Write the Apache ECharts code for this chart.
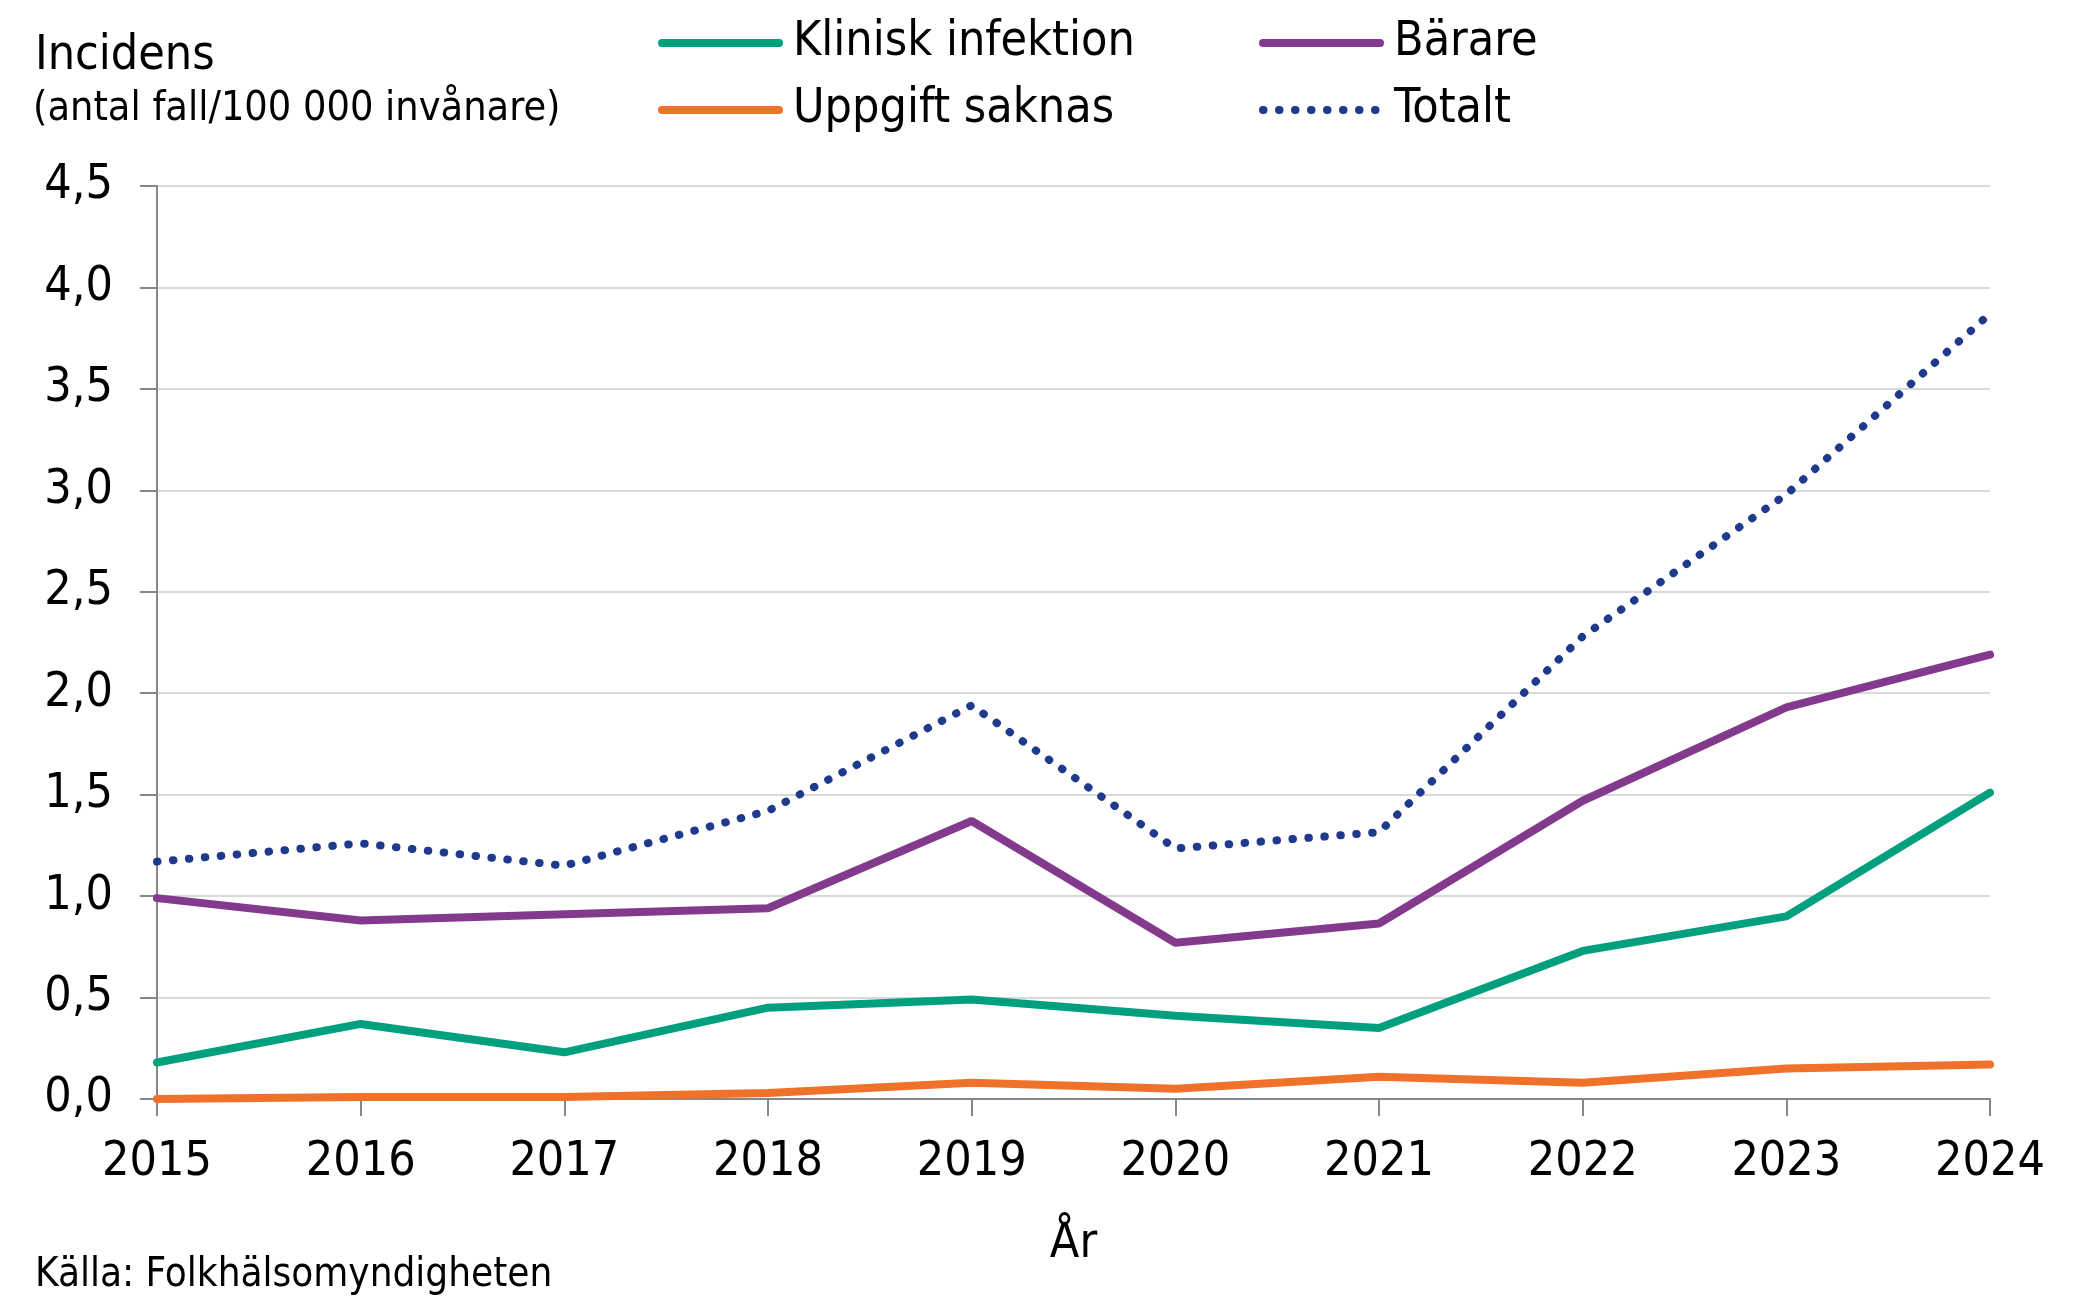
<!DOCTYPE html>
<html>
<head>
    <meta charset="utf-8">
    <script src="https://cdn.jsdelivr.net/npm/echarts@6/dist/echarts.min.js"></script>
    <style>
        html, body { margin: 0; padding: 0; background: #fff; }
    </style>
</head>
<body>
    <div id="main" style="width: 2079px;height:1300px;"></div>
    <script type="text/javascript">
        // data
        var years = ['2015', '2016', '2017', '2018', '2019', '2020', '2021', '2022', '2023', '2024'];
        var klinisk = [0.18, 0.37, 0.23, 0.45, 0.49, 0.41, 0.35, 0.73, 0.90, 1.51];
        var barare = [0.99, 0.88, 0.91, 0.94, 1.37, 0.77, 0.865, 1.47, 1.93, 2.19];
        var uppgift = [0.00, 0.01, 0.01, 0.03, 0.08, 0.05, 0.11, 0.08, 0.15, 0.17];
        var totalt = [1.17, 1.26, 1.15, 1.42, 1.94, 1.235, 1.315, 2.28, 2.98, 3.87];
        var yTicks = [0, 0.5, 1, 1.5, 2, 2.5, 3, 3.5, 4, 4.5];

        var FONT = '"DejaVu Sans Condensed", "DejaVu Sans", sans-serif';
        var colors = {
            klinisk: '#00A07F',
            barare: '#833A8D',
            uppgift: '#F0712A',
            totalt: '#1F3A8C'
        };

        var myChart = echarts.init(document.getElementById('main'));

        function lineSeries(name, data, color, dotted) {
            return {
                name: name,
                type: 'line',
                data: data,
                symbol: 'none',
                showSymbol: false,
                smooth: false,
                animation: false,
                z: dotted ? 3 : 2,
                lineStyle: dotted ? {
                    color: color,
                    width: 8,
                    type: [0.5, 15.5],
                    cap: 'round'
                } : {
                    color: color,
                    width: 8,
                    cap: 'round'
                },
                itemStyle: { color: color }
            };
        }

        var legendText = {
            fontFamily: FONT,
            fontSize: 48,
            color: '#000',
            lineHeight: 48,
            padding: [0, 0, 0, 9]
        };

        function legendAt(items, left) {
            return {
                data: items,
                orient: 'vertical',
                left: left,
                top: 14,
                itemWidth: 117,
                itemHeight: 30,
                itemGap: 19,
                itemStyle: { opacity: 0, borderWidth: 0 },
                lineStyle: { width: 8, opacity: 1 },
                textStyle: legendText
            };
        }

        option = {
            backgroundColor: '#fff',
            animation: false,
            textStyle: { fontFamily: FONT },
            grid: {
                left: 157,
                right: 89,
                top: 186,
                bottom: 201,
                containLabel: false
            },
            legend: [
                legendAt(['Klinisk infektion', 'Uppgift saknas'], 653),
                legendAt(['Bärare', 'Totalt'], 1254)
            ],
            graphic: [
                {
                    type: 'text',
                    left: 35,
                    top: 33,
                    style: { text: 'Incidens', font: '48px ' + FONT, fill: '#000' }
                },
                {
                    type: 'text',
                    left: 33,
                    top: 89,
                    style: { text: '(antal fall/100 000 invånare)', font: '41px ' + FONT, fill: '#000' }
                },
                {
                    type: 'text',
                    left: 35,
                    top: 1256,
                    style: { text: 'Källa: Folkhälsomyndigheten', font: '40px ' + FONT, fill: '#000' }
                }
            ],
            xAxis: {
                type: 'category',
                data: years,
                boundaryGap: false,
                name: 'År',
                nameLocation: 'middle',
                nameGap: 122,
                nameTextStyle: { fontFamily: FONT, fontSize: 48, color: '#000' },
                axisLine: { show: true, lineStyle: { color: '#868686', width: 2 } },
                axisTick: {
                    show: true,
                    alignWithLabel: true,
                    interval: 0,
                    length: 17,
                    lineStyle: { color: '#868686', width: 2 }
                },
                axisLabel: {
                    interval: 0,
                    margin: 40,
                    fontFamily: FONT,
                    fontSize: 48,
                    color: '#000'
                },
                splitLine: { show: false }
            },
            yAxis: {
                type: 'value',
                min: yTicks[0],
                max: yTicks[yTicks.length - 1],
                interval: 0.5,
                axisLine: { show: true, lineStyle: { color: '#868686', width: 2 } },
                axisTick: { show: true, length: 17, lineStyle: { color: '#868686', width: 2 } },
                axisLabel: {
                    margin: 44,
                    fontFamily: FONT,
                    fontSize: 48,
                    color: '#000',
                    formatter: function (v) { return v.toFixed(1).replace('.', ','); }
                },
                splitLine: { show: true, lineStyle: { color: '#D9D9D9', width: 2 } }
            },
            series: [
                lineSeries('Klinisk infektion', klinisk, colors.klinisk, false),
                lineSeries('Bärare', barare, colors.barare, false),
                lineSeries('Uppgift saknas', uppgift, colors.uppgift, false),
                lineSeries('Totalt', totalt, colors.totalt, true)
            ]
        };
        myChart.setOption(option);
    </script>
</body>
</html>
